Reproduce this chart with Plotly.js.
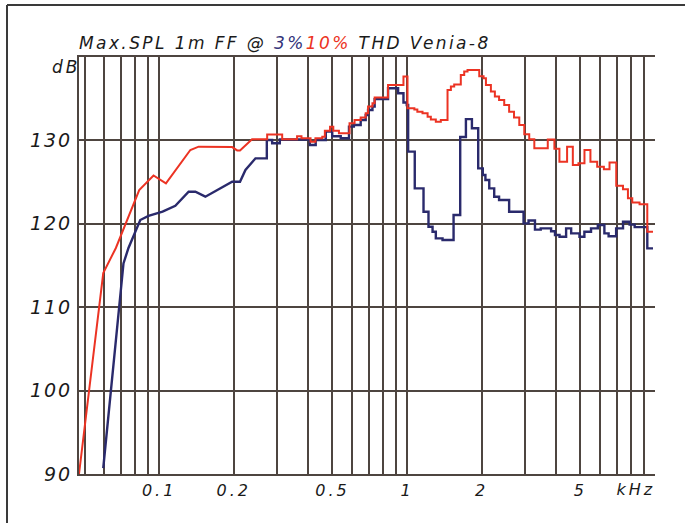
<!DOCTYPE html>
<html>
<head>
<meta charset="utf-8">
<script src="https://cdn.plot.ly/plotly-3.0.1.min.js"></script>
<style>
html,body{margin:0;padding:0;background:#fff;}
#chart{width:685px;height:523px;}
#chart .xtick text{letter-spacing:3px;}
#chart .ytick text{letter-spacing:2px;}
#chart .gtitle{letter-spacing:2.4px;}
#chart .annotation-text{letter-spacing:3px;}
</style>
</head>
<body>
<div id="chart"></div>
<script>
// ---- Data (frequency in kHz, level in dB) ----
// 10% THD (red): smooth low-frequency part, then stepped bins
var redSmoothF  = [0.0475, 0.0595, 0.0669, 0.0831, 0.0949, 0.1065, 0.1336, 0.1443, 0.197, 0.2063, 0.2119, 0.2312, 0.237];
var redSmoothDb = [90.0, 114.1, 117.1, 124.05, 125.8, 124.85, 128.85, 129.25, 129.2, 128.8, 128.8, 129.9, 130.13];
var redStepF  = [0.237, 0.2727, 0.3135, 0.36, 0.375, 0.408, 0.427, 0.455, 0.466, 0.489, 0.504, 0.531, 0.586, 0.614, 0.65, 0.681, 0.696, 0.725, 0.740, 0.838, 0.967, 1.004, 1.07, 1.10, 1.154, 1.21, 1.247, 1.306, 1.368, 1.456, 1.502, 1.549, 1.647, 1.70, 1.753, 1.955, 2.035, 2.08, 2.178, 2.26, 2.35, 2.465, 2.58, 2.70, 2.835, 2.97, 3.11, 3.26, 3.694, 3.928, 4.116, 4.42, 4.662, 4.912, 5.194, 5.49, 5.846, 6.22, 6.555, 6.977, 7.427, 7.778, 8.096, 8.664, 9.309];
var redStepDb = [130.13, 130.7, 130.13, 130.5, 130.25, 129.85, 130.25, 130.45, 131.15, 131.65, 131.15, 130.85, 132.05, 132.45, 132.75, 133.25, 134.05, 134.45, 135.15, 136.65, 137.65, 133.85, 133.7, 133.45, 133.25, 132.85, 132.5, 132.25, 132.45, 136.05, 136.45, 136.7, 137.85, 138.25, 138.45, 137.7, 137.45, 136.65, 135.85, 135.25, 134.85, 134.25, 133.45, 132.75, 131.85, 130.75, 130.15, 129.05, 130.1, 129.0, 127.45, 129.25, 127.05, 127.25, 128.85, 127.45, 126.85, 126.55, 127.35, 124.55, 124.15, 123.05, 122.55, 122.35, 119.05];
var redEndF = 9.815;

// 3% THD (blue)
var blueSmoothF  = [0.0595, 0.0718, 0.0752, 0.0839, 0.0906, 0.1032, 0.1162, 0.1315, 0.14, 0.1536, 0.197, 0.2119, 0.2229, 0.2446, 0.2718];
var blueSmoothDb = [90.7, 115.25, 117.1, 120.45, 120.95, 121.45, 122.15, 123.85, 123.85, 123.25, 125.05, 125.05, 126.45, 127.85, 127.85];
var blueStepF  = [0.2718, 0.2856, 0.3067, 0.405, 0.428, 0.470, 0.499, 0.54, 0.583, 0.61, 0.65, 0.681, 0.696, 0.725, 0.74, 0.838, 0.92, 0.967, 0.997, 1.01, 1.074, 1.165, 1.22, 1.267, 1.306, 1.39, 1.54, 1.638, 1.727, 1.826, 1.936, 2.02, 2.07, 2.145, 2.246, 2.35, 2.58, 2.95, 3.09, 3.28, 3.46, 3.81, 3.95, 4.12, 4.38, 4.59, 4.96, 5.19, 5.52, 5.88, 6.25, 6.5, 6.97, 7.43, 7.9, 8.28, 9.31];
var blueStepDb = [130.05, 129.65, 130.1, 129.45, 130.05, 131.05, 130.5, 130.25, 131.65, 131.85, 132.45, 133.05, 133.65, 134.05, 134.95, 136.25, 135.65, 134.55, 134.25, 128.65, 124.25, 121.45, 119.65, 119.05, 118.25, 118.05, 121.05, 130.4, 132.55, 131.45, 126.65, 125.85, 125.25, 124.25, 123.25, 122.85, 121.45, 120.05, 120.4, 119.3, 119.45, 119.1, 118.65, 118.45, 119.45, 118.85, 118.45, 119.05, 119.45, 119.85, 118.85, 118.5, 119.45, 120.25, 119.9, 119.6, 117.05];
var blueEndF = 9.815;

// Axis grid / labels
var gridF = [0.05, 0.06, 0.07, 0.08, 0.09, 0.1, 0.2, 0.3, 0.4, 0.5, 0.6, 0.7, 0.8, 0.9, 1, 2, 3, 4, 5, 6, 7, 8, 9];
var labeledF = [0.1, 0.2, 0.5, 1, 2, 5];
var labeledText = ['0.1', '0.2', '0.5', '1', '2', '5'];
var dbTicks = [90, 100, 110, 120, 130];
var dbTickText = ['90', '100', '110', '120', '130'];

// ---- build polylines ----
function buildSeries(sf, sv, stf, stv, endF) {
  var x = sf.slice(), y = sv.slice();
  for (var i = 0; i < stf.length; i++) {
    var next = (i + 1 < stf.length) ? stf[i + 1] : endF;
    x.push(stf[i]); y.push(stv[i]);
    x.push(next); y.push(stv[i]);
  }
  return {x: x, y: y};
}
var red = buildSeries(redSmoothF, redSmoothDb, redStepF, redStepDb, redEndF);
var blue = buildSeries(blueSmoothF, blueSmoothDb, blueStepF, blueStepDb, blueEndF);

var tickText = gridF.map(function (f) {
  var k = labeledF.indexOf(f);
  return k >= 0 ? labeledText[k] : '';
});

var GRID = '#4e4540';
var RED = '#ec3323';
var BLUE = '#2a2a6c';
var TXT = '#1a1a1a';
var FONT = 'DejaVu Sans, sans-serif';

var L = 79, R = 655, T = 57, B = 474, W = 685, H = 523;
function px2paperX(p) { return (p - L) / (R - L); }
function py2paperY(p) { return (B - p) / (B - T); }

var traces = [
  {x: blue.x, y: blue.y, mode: 'lines', line: {color: BLUE, width: 2.4}, hoverinfo: 'skip', name: '3%'},
  {x: red.x, y: red.y, mode: 'lines', line: {color: RED, width: 2}, hoverinfo: 'skip', name: '10%'}
];

var layout = {
  width: W, height: H,
  margin: {l: L, r: W - R, t: T, b: H - B, pad: 0},
  paper_bgcolor: '#fff', plot_bgcolor: '#fff',
  showlegend: false,
  title: {
    text: 'Max.SPL 1m FF @ <span style="color:#33337a">3%</span><span style="color:' + RED + '">10%</span> THD Venia-8',
    font: {family: FONT, size: 17, color: TXT, style: 'italic'},
    xref: 'paper', x: 0, xanchor: 'left',
    yref: 'container', y: 1 - 43 / H, yanchor: 'middle'
  },
  xaxis: {
    type: 'log', range: [Math.log10(0.0475), 1],
    tickmode: 'array', tickvals: gridF, ticktext: tickText,
    showgrid: true, gridcolor: GRID, gridwidth: 2,
    showline: true, linecolor: GRID, linewidth: 2, mirror: true,
    zeroline: false, ticks: '',
    tickfont: {family: FONT, size: 16, color: TXT, style: 'italic'},
    ticklabelstandoff: 1,
    fixedrange: true
  },
  yaxis: {
    range: [90, 140],
    tickmode: 'array', tickvals: dbTicks, ticktext: dbTickText,
    showgrid: true, gridcolor: GRID, gridwidth: 2,
    showline: true, linecolor: GRID, linewidth: 2, mirror: false,
    zeroline: false, ticks: '',
    tickfont: {family: FONT, size: 19, color: TXT, style: 'italic'},
    ticklabelstandoff: 1,
    fixedrange: true
  },
  annotations: [
    {text: 'dB', xref: 'paper', yref: 'paper', x: px2paperX(79), y: py2paperY(67), xanchor: 'right', yanchor: 'middle', showarrow: false,
     font: {family: FONT, size: 17, color: TXT, style: 'italic'}},
    {text: 'kHz', xref: 'paper', yref: 'paper', x: px2paperX(636), y: py2paperY(489), xanchor: 'center', yanchor: 'middle', showarrow: false,
     font: {family: FONT, size: 16, color: TXT, style: 'italic'}}
  ],
  shapes: [
    {type: 'line', xref: 'paper', yref: 'paper', x0: px2paperX(7), x1: px2paperX(W + 2), y0: py2paperY(5), y1: py2paperY(5), line: {color: '#3a3a3a', width: 2}},
    {type: 'line', xref: 'paper', yref: 'paper', x0: px2paperX(7), x1: px2paperX(7), y0: py2paperY(5), y1: py2paperY(H + 2), line: {color: '#3a3a3a', width: 2}}
  ]
};

Plotly.newPlot('chart', traces, layout, {staticPlot: true, displayModeBar: false});
</script>
</body>
</html>
